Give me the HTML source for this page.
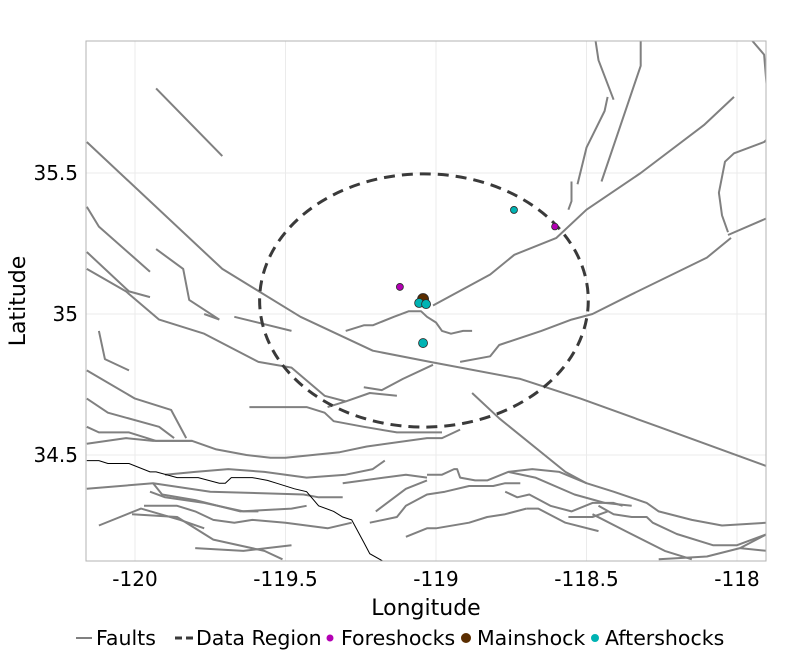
<!DOCTYPE html>
<html><head><meta charset="utf-8"><style>
body{margin:0;background:#fff;font-family:"Liberation Sans","DejaVu Sans",sans-serif;}
svg text{font-family:"DejaVu Sans","Liberation Sans",sans-serif;}
</style></head><body>
<svg id="chart" width="800" height="654" viewBox="0 0 800 654" xmlns="http://www.w3.org/2000/svg"></svg>
<script>
const xTicks=[-120,-119.5,-119,-118.5,-118];
const xTickLabels=["-120","-119.5","-119","-118.5","-118"];
const yTicks=[34.5,35,35.5];
const yTickLabels=["34.5","35","35.5"];
const foreLon=[-119.12,-118.605];
const foreLat=[35.096,35.31];
const foreSize=[3.5,3.3];
const mainLon=[-119.043];
const mainLat=[35.053];
const mainSize=[5.5];
const afterLon=[-119.056,-119.033,-119.043,-118.741];
const afterLat=[35.039,35.035,34.897,35.369];
const afterSize=[4.5,4.5,4.5,3.5];
const regionLon=-119.04, regionLat=35.048, regionRLon=0.546, regionRLat=0.449;
const faults=[
[[-120.16,35.61],[-119.71,35.16],[-119.45,34.99],[-119.21,34.87],[-119.02,34.83],[-118.72,34.77],[-118.52,34.70],[-118.26,34.60],[-117.90,34.46]],
[[-120.16,35.38],[-120.12,35.31],[-119.95,35.15]],
[[-120.16,35.22],[-120.02,35.08],[-119.95,35.06]],
[[-120.16,35.16],[-120.03,35.08],[-119.92,34.98],[-119.77,34.93],[-119.59,34.83],[-119.48,34.81],[-119.37,34.71],[-119.30,34.69]],
[[-119.93,35.23],[-119.84,35.16],[-119.82,35.05],[-119.72,34.98]],
[[-119.93,35.80],[-119.71,35.56]],
[[-120.12,34.94],[-120.10,34.84],[-120.02,34.80]],
[[-120.16,34.80],[-120.00,34.70],[-119.88,34.66],[-119.83,34.56]],
[[-120.16,34.70],[-120.09,34.65],[-119.92,34.60],[-119.87,34.56]],
[[-120.16,34.60],[-120.12,34.58],[-120.02,34.58],[-119.93,34.55],[-119.81,34.55],[-119.73,34.52],[-119.63,34.50],[-119.55,34.49],[-119.50,34.49],[-119.32,34.51],[-119.23,34.53],[-119.03,34.56],[-118.98,34.56],[-118.92,34.59]],
[[-120.16,34.54],[-120.03,34.56],[-119.94,34.55],[-119.81,34.55]],
[[-119.62,34.67],[-119.52,34.67],[-119.43,34.67],[-119.37,34.65],[-119.34,34.62],[-119.24,34.60],[-119.13,34.58],[-119.03,34.58],[-118.98,34.58]],
[[-119.36,34.67],[-119.30,34.69],[-119.22,34.72],[-119.13,34.71]],
[[-119.24,34.74],[-119.18,34.73],[-119.11,34.77],[-119.01,34.82]],
[[-119.90,34.43],[-119.80,34.44],[-119.69,34.45],[-119.57,34.44],[-119.43,34.42],[-119.30,34.43],[-119.21,34.45],[-119.17,34.48]],
[[-120.16,34.38],[-119.94,34.40],[-119.75,34.37],[-119.44,34.36],[-119.39,34.35],[-119.31,34.35]],
[[-119.94,34.40],[-119.91,34.36],[-119.80,34.34],[-119.65,34.30],[-119.48,34.31],[-119.43,34.32]],
[[-119.95,34.37],[-119.90,34.35],[-119.77,34.33],[-119.64,34.30],[-119.59,34.30]],
[[-119.97,34.32],[-119.86,34.32],[-119.80,34.30],[-119.74,34.27],[-119.67,34.26],[-119.61,34.27],[-119.50,34.26],[-119.36,34.24],[-119.28,34.26]],
[[-120.12,34.25],[-119.98,34.31],[-119.85,34.27],[-119.77,34.24]],
[[-120.01,34.29],[-119.86,34.28],[-119.74,34.20],[-119.57,34.16],[-119.51,34.13]],
[[-119.80,34.17],[-119.64,34.16],[-119.48,34.18]],
[[-119.22,34.26],[-119.13,34.28],[-119.10,34.32],[-119.03,34.36],[-118.97,34.37],[-118.89,34.39],[-118.81,34.39],[-118.77,34.40],[-118.72,34.40]],
[[-119.31,34.40],[-119.10,34.43],[-119.03,34.42]],
[[-119.20,34.30],[-119.10,34.38],[-119.03,34.41]],
[[-119.10,34.21],[-119.03,34.24],[-119.00,34.24],[-118.89,34.26],[-118.83,34.28],[-118.77,34.29],[-118.70,34.31]],
[[-118.88,34.72],[-118.79,34.63],[-118.57,34.44],[-118.50,34.40],[-118.41,34.37],[-118.30,34.33],[-118.26,34.30],[-118.15,34.27],[-118.05,34.25],[-117.90,34.26]],
[[-119.03,34.43],[-118.98,34.43],[-118.94,34.45],[-118.93,34.45],[-118.92,34.42],[-118.87,34.41],[-118.83,34.41],[-118.76,34.44],[-118.68,34.45],[-118.59,34.44],[-118.50,34.40]],
[[-118.76,34.44],[-118.67,34.42],[-118.54,34.36],[-118.44,34.33],[-118.35,34.32]],
[[-118.77,34.37],[-118.73,34.35],[-118.69,34.36],[-118.62,34.32],[-118.55,34.30],[-118.48,34.33],[-118.41,34.33],[-118.38,34.32]],
[[-118.46,34.32],[-118.41,34.29],[-118.35,34.28],[-118.30,34.28],[-118.28,34.26],[-118.20,34.22],[-118.08,34.18],[-118.00,34.18],[-117.90,34.22]],
[[-118.56,34.28],[-118.48,34.28],[-118.43,34.30]],
[[-118.70,34.31],[-118.66,34.31],[-118.57,34.26],[-118.46,34.23]],
[[-118.48,34.29],[-118.37,34.23],[-118.24,34.16],[-118.15,34.13]],
[[-118.26,34.13],[-118.10,34.14],[-117.99,34.17],[-117.90,34.22]],
[[-117.99,34.17],[-117.90,34.16]],
[[-118.47,35.97],[-118.46,35.90],[-118.41,35.76]],
[[-118.43,35.77],[-118.44,35.72],[-118.50,35.59],[-118.53,35.46]],
[[-118.55,35.47],[-118.55,35.40],[-118.56,35.37]],
[[-118.32,35.97],[-118.32,35.88],[-118.45,35.47]],
[[-119.01,35.03],[-118.82,35.14],[-118.74,35.21],[-118.60,35.27],[-118.50,35.37],[-118.32,35.50],[-118.11,35.67],[-118.01,35.77]],
[[-118.92,34.83],[-118.82,34.85],[-118.79,34.89],[-118.65,34.94],[-118.55,34.98],[-118.48,35.00],[-118.35,35.07],[-118.10,35.20],[-118.02,35.27]],
[[-118.03,35.28],[-117.90,35.34]],
[[-118.03,35.29],[-118.05,35.35],[-118.06,35.43],[-118.04,35.54],[-118.01,35.57],[-117.91,35.61],[-117.90,35.62]],
[[-117.95,35.97],[-117.91,35.92],[-117.90,35.79]],
[[-119.30,34.94],[-119.24,34.96],[-119.21,34.96],[-119.14,34.99],[-119.09,35.01],[-119.05,35.01],[-119.03,34.99],[-119.00,34.97],[-118.98,34.94],[-118.95,34.93],[-118.91,34.94],[-118.88,34.94]],
[[-119.67,34.99],[-119.48,34.94]],
[[-119.77,35.00],[-119.72,34.98]]
];
const coast=[[-120.16,34.48],[-120.12,34.48],[-120.09,34.47],[-120.02,34.47],[-119.95,34.44],[-119.93,34.44],[-119.86,34.42],[-119.83,34.42],[-119.79,34.42],[-119.72,34.40],[-119.70,34.40],[-119.68,34.42],[-119.61,34.42],[-119.56,34.41],[-119.53,34.40],[-119.47,34.38],[-119.43,34.37],[-119.39,34.32],[-119.34,34.30],[-119.31,34.28],[-119.28,34.27],[-119.24,34.19],[-119.22,34.15],[-119.17,34.12]];

const L=86,R=766,T=41,B=561;
function sx(lon){return 436+(lon+119)*301;}
function sy(lat){return 314-(lat-35)*282;}
const NS="http://www.w3.org/2000/svg";
const svg=document.getElementById('chart');
function mk(tag,attrs,parent){const e=document.createElementNS(NS,tag);for(const k in attrs)e.setAttribute(k,attrs[k]);(parent||svg).appendChild(e);return e;}

const defs=mk('defs',{});
const cp=mk('clipPath',{id:'clip'},defs);
mk('rect',{x:L,y:T,width:R-L,height:B-T},cp);

const grid=mk('g',{});


xTicks.forEach(v=>{const l=mk('line',{x1:sx(v),x2:sx(v),y1:T,y2:B,stroke:'#ebebeb','stroke-width':1},grid);});
yTicks.forEach(v=>{const l=mk('line',{x1:L,x2:R,y1:sy(v),y2:sy(v),stroke:'#ebebeb','stroke-width':1},grid);});

const plot=mk('g',{'clip-path':'url(#clip)'});


function pts(arr){return arr.map(p=>sx(p[0]).toFixed(1)+','+sy(p[1]).toFixed(1)).join(' ');}
faults.forEach(f=>{const e=mk('polyline',{points:pts(f),fill:'none',stroke:'#808080','stroke-width':2,'stroke-linejoin':'round'},plot);

});
const c=mk('polyline',{points:pts(coast),fill:'none',stroke:'#000','stroke-width':1},plot);


const reg=mk('ellipse',{cx:sx(regionLon),cy:sy(regionLat),rx:sx(regionLon+regionRLon)-sx(regionLon),ry:sy(regionLat)-sy(regionLat+regionRLat),fill:'none',stroke:'#3a3a3a','stroke-width':3,'stroke-dasharray':'11,7'},plot);


function dots(lons,lats,sizes,fill,name){lons.forEach((lo,i)=>{const d=mk('circle',{cx:sx(lo),cy:sy(lats[i]),r:sizes[i],fill:fill,stroke:'#2a2a2a','stroke-width':0.8},plot);

});}
dots(foreLon,foreLat,foreSize,'#b300b3','foreshock-point');
dots(mainLon,mainLat,mainSize,'#5a2d00','mainshock-point');
dots(afterLon,afterLat,afterSize,'#00b3b3','aftershock-point');

const border=mk('rect',{x:L,y:T,width:R-L,height:B-T,fill:'none',stroke:'#b3b3b3','stroke-width':1});



xTicks.forEach((v,i)=>{const t=mk('text',{x:sx(v),y:586,'text-anchor':'middle','font-size':20,fill:'#000'});t.textContent=xTickLabels[i];

});
yTicks.forEach((v,i)=>{const t=mk('text',{x:78,y:sy(v)+7,'text-anchor':'end','font-size':20,fill:'#000'});t.textContent=yTickLabels[i];

});
const xt=mk('text',{x:426,y:615,'text-anchor':'middle','font-size':22,fill:'#000'});xt.textContent='Longitude';


const yt=mk('text',{x:25,y:301,'text-anchor':'middle','font-size':22,fill:'#000',transform:'rotate(-90 25 301)'});yt.textContent='Latitude';



const lg=mk('g',{});


const ly=638;
let e;
e=mk('line',{x1:76,x2:92,y1:ly,y2:ly,stroke:'#808080','stroke-width':2},lg);
e=mk('text',{x:96,y:ly+7,'font-size':20.5},lg);e.textContent='Faults';


e=mk('line',{x1:175,x2:193,y1:ly,y2:ly,stroke:'#3a3a3a','stroke-width':3,'stroke-dasharray':'7,4'},lg);
e=mk('text',{x:196,y:ly+7,'font-size':20.5},lg);e.textContent='Data Region';


e=mk('circle',{cx:330,cy:ly,r:3.5,fill:'#b300b3'},lg);
e=mk('text',{x:341,y:ly+7,'font-size':20.5},lg);e.textContent='Foreshocks';


e=mk('circle',{cx:466,cy:ly,r:5,fill:'#5a2d00'},lg);
e=mk('text',{x:477,y:ly+7,'font-size':20.5},lg);e.textContent='Mainshock';


e=mk('circle',{cx:595,cy:ly,r:4,fill:'#00b3b3'},lg);
e=mk('text',{x:605,y:ly+7,'font-size':20.5},lg);e.textContent='Aftershocks';


</script>
</body></html>
